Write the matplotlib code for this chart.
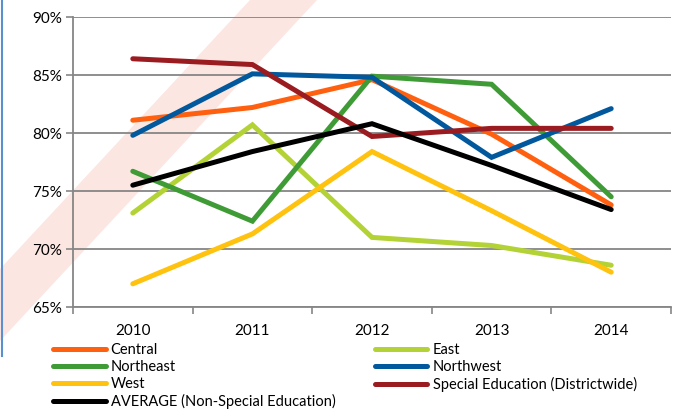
import matplotlib.pyplot as plt
from matplotlib.patches import Polygon
from matplotlib.lines import Line2D
from matplotlib.ticker import FuncFormatter, FixedLocator

plt.rcParams['font.family'] = ['Lato', 'DejaVu Sans']

years = ['2010', '2011', '2012', '2013', '2014']

central = [81.1, 82.2, 84.6, 79.9, 73.8]
east = [73.1, 80.7, 71.0, 70.3, 68.6]
northeast = [76.7, 72.4, 84.9, 84.2, 74.5]
northwest = [79.8, 85.1, 84.8, 77.9, 82.1]
west = [67.0, 71.3, 78.4, 73.3, 68.0]
sped = [86.4, 85.9, 79.7, 80.4, 80.4]
average = [75.5, 78.4, 80.8, 77.2, 73.4]

series = [
    ('Central', central, '#ff6010'),
    ('East', east, '#b3d236'),
    ('Northeast', northeast, '#3f9b35'),
    ('Northwest', northwest, '#02589d'),
    ('West', west, '#ffc20f'),
    ('Special Education (Districtwide)', sped, '#9a1b20'),
    ('AVERAGE (Non-Special Education)', average, '#000000'),
]

fig = plt.figure(figsize=(6.81, 4.15), dpi=100)

# pale diagonal band in the background
band = Polygon([(0.0, 1 - 269 / 415), (0.0, 1 - 341 / 415), (317 / 681, 1.0), (250 / 681, 1.0)],
               closed=True, transform=fig.transFigure, facecolor='#fce6e2',
               edgecolor='none', zorder=-5)
fig.add_artist(band)
fig.add_artist(Line2D([1.5 / 681, 1.5 / 681], [1 - 356 / 415, 1.0],
                      transform=fig.transFigure, color='#5b8fd0', lw=1.5))

ax = fig.add_axes([73 / 681, 1 - 307 / 415, 598 / 681, 290 / 415])
ax.patch.set_alpha(0)

x = range(len(years))
handles = {}
for name, vals, col in series:
    h, = ax.plot(x, vals, color=col, lw=3.6, solid_capstyle='round',
                 solid_joinstyle='miter', label=name, zorder=3)
    handles[name] = h

ax.set_xlim(-0.5, 4.5)
ax.set_ylim(65, 90)
ax.set_yticks([65, 70, 75, 80, 85, 90])
ax.yaxis.set_major_formatter(FuncFormatter(lambda v, p: f'{v:.0f}%'))
ax.set_xticks(list(x))
ax.set_xticklabels(years)
ax.xaxis.set_minor_locator(FixedLocator([-0.5, 0.5, 1.5, 2.5, 3.5, 4.5]))
ax.tick_params(axis='x', which='major', length=0, pad=12, labelsize=11)
ax.tick_params(axis='x', which='minor', length=5, color='#868686', width=1.2, direction='out')
ax.tick_params(axis='y', length=5, color='#868686', width=1.2, labelsize=11, pad=3)
ax.grid(axis='y', color='#868686', lw=1.3, zorder=1)
for s in ['top', 'right']:
    ax.spines[s].set_visible(False)
for s in ['left', 'bottom']:
    ax.spines[s].set_color('#868686')
    ax.spines[s].set_linewidth(1.3)

col1 = ['Central', 'Northeast', 'West', 'AVERAGE (Non-Special Education)']
col2 = ['East', 'Northwest', 'Special Education (Districtwide)']
kw = dict(frameon=False, fontsize=10.5, handlelength=3.6, handletextpad=0.35,
          labelspacing=0.2, borderpad=0, borderaxespad=0, loc='upper left')
leg1 = fig.legend([handles[n] for n in col1], col1,
                  bbox_to_anchor=(53 / 681, 1 - 343 / 415), **kw)
leg2 = fig.legend([handles[n] for n in col2], col2,
                  bbox_to_anchor=(375 / 681, 1 - 343 / 415), **kw)

fig.savefig('out.png', dpi=100)
